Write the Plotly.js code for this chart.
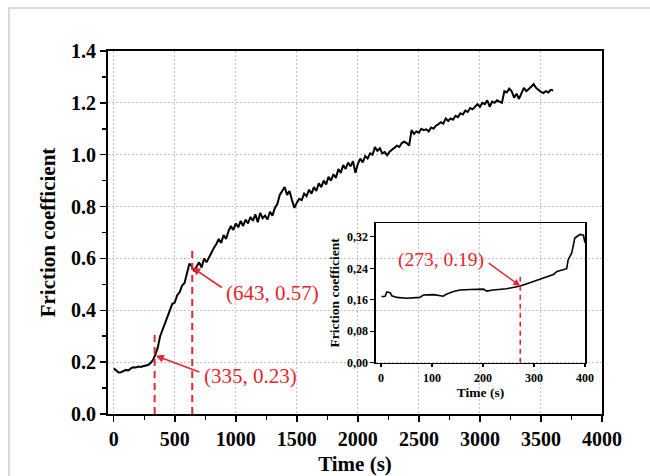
<!DOCTYPE html>
<html>
<head>
<meta charset="utf-8">
<script src="https://cdn.plot.ly/plotly-3.0.1.min.js"></script>
<style>
  html, body { margin: 0; padding: 0; background: #fff; }
  #wrap { position: relative; width: 650px; height: 476px; overflow: hidden; }
  #chart { position: absolute; left: 0; top: 0; width: 650px; height: 476px; }
  #frame { position: absolute; left: 8px; top: 7px; width: 700px; height: 500px;
           border-top: 2px solid #dadada; border-left: 2px solid #dadada; pointer-events: none; }
</style>
</head>
<body>
<div id="wrap"><div id="chart"></div><div id="frame"></div></div>
<script>
// ---- Main curve: time (s) and friction coefficient ----
const mainTime = [
  0,20,40,60,80,100,120,140,160,180,200,220,240,260,280,300,320,340,360,380,
  400,420,440,460,480,500,520,540,560,580,600,620,640,660,680,700,720,740,760,780,
  800,820,840,860,880,900,920,940,960,980,1000,1020,1040,1060,1080,1100,1120,1140,1160,1180,
  1200,1220,1240,1260,1280,1300,1320,1340,1360,1380,1400,1420,1440,1460,1480,1500,1520,1540,1560,1580,
  1600,1620,1640,1660,1680,1700,1720,1740,1760,1780,1800,1820,1840,1860,1880,1900,1920,1940,1960,1980,
  2000,2020,2040,2060,2080,2100,2120,2140,2160,2180,2200,2220,2240,2260,2280,2300,2320,2340,2360,2380,
  2400,2420,2440,2460,2480,2500,2520,2540,2560,2580,2600,2620,2640,2660,2680,2700,2720,2740,2760,2780,
  2800,2820,2840,2860,2880,2900,2920,2940,2960,2980,3000,3020,3040,3060,3080,3100,3120,3140,3160,3180,
  3200,3220,3240,3260,3280,3300,3320,3340,3360,3380,3400,3420,3440,3460,3480,3500,3520,3540,3560,3580,
  3600
];
const mainFriction = [
  0.176,0.168,0.160,0.161,0.166,0.170,0.168,0.176,0.180,0.179,0.183,0.181,0.184,0.186,0.189,0.196,0.207,0.228,0.255,0.300,
  0.325,0.345,0.375,0.395,0.425,0.430,0.458,0.470,0.495,0.505,0.540,0.580,0.570,0.550,0.570,0.585,0.565,0.600,0.585,0.605,
  0.620,0.640,0.655,0.675,0.660,0.690,0.675,0.705,0.725,0.710,0.735,0.720,0.745,0.725,0.750,0.735,0.760,0.745,0.770,0.740,
  0.775,0.755,0.765,0.750,0.780,0.765,0.795,0.810,0.845,0.860,0.875,0.845,0.860,0.825,0.795,0.815,0.830,0.825,0.850,0.840,
  0.865,0.850,0.875,0.860,0.890,0.875,0.900,0.885,0.915,0.900,0.925,0.910,0.945,0.930,0.960,0.945,0.970,0.955,0.975,0.930,
  0.965,0.985,0.970,0.995,0.985,1.005,1.000,1.030,1.015,1.025,1.005,1.010,0.998,1.012,1.020,1.028,1.035,1.030,1.045,1.050,
  1.045,1.035,1.095,1.080,1.090,1.085,1.100,1.095,1.098,1.090,1.105,1.100,1.112,1.118,1.125,1.120,1.140,1.130,1.140,1.135,
  1.150,1.145,1.160,1.155,1.170,1.165,1.180,1.175,1.185,1.195,1.185,1.200,1.195,1.210,1.185,1.205,1.200,1.210,1.205,1.200,
  1.245,1.240,1.255,1.245,1.220,1.235,1.215,1.240,1.258,1.245,1.252,1.262,1.272,1.258,1.250,1.242,1.238,1.245,1.240,1.250,
  1.248
];

// ---- Inset curve: first 400 s ----
const insetTime = [1,8,11,18,21,31,50,63,76,83,103,122,129,142,155,175,201,207,220,246,266,273,286,299,312,325,338,345,364,367,374,380,390,397,400];
const insetFriction = [0.168,0.169,0.180,0.178,0.170,0.166,0.164,0.165,0.166,0.172,0.173,0.169,0.175,0.181,0.185,0.186,0.187,0.182,0.185,0.188,0.192,0.195,0.201,0.207,0.214,0.218,0.224,0.232,0.239,0.262,0.279,0.317,0.326,0.324,0.305];

// ---- Marked points ----
const mainMarkTime = [335, 643];
const mainMarkFriction = [0.23, 0.57];
const mainMarkLabels = ['(335, 0.23)', '(643, 0.57)'];
const insetMarkTime = [273];
const insetMarkFriction = [0.19];
const insetMarkLabels = ['(273, 0.19)'];

// ---- Ticks ----
const insetYTickVals = [0, 0.08, 0.16, 0.24, 0.32];
const insetYTickText = ['0,00', '0,08', '0,16', '0,24', '0,32'];
const insetXTickVals = [0, 100, 200, 300, 400];

const SERIF = '"Liberation Serif", "Times New Roman", serif';
const RED = '#e3262b';

const traces = [
  { x: mainTime, y: mainFriction, type: 'scatter', mode: 'lines',
    line: { color: 'black', width: 2 }, xaxis: 'x', yaxis: 'y', hoverinfo: 'skip' },
  { x: [mainMarkTime[0], mainMarkTime[0]], y: [0, 0.31], type: 'scatter', mode: 'lines',
    line: { color: RED, width: 2, dash: '7px,5px' }, xaxis: 'x', yaxis: 'y' },
  { x: [mainMarkTime[1], mainMarkTime[1]], y: [0, 0.64], type: 'scatter', mode: 'lines',
    line: { color: RED, width: 2, dash: '7px,5px' }, xaxis: 'x', yaxis: 'y' },
  { x: insetTime, y: insetFriction, type: 'scatter', mode: 'lines',
    line: { color: 'black', width: 1.6 }, xaxis: 'x2', yaxis: 'y2' },
  { x: [insetMarkTime[0], insetMarkTime[0]], y: [0, 0.227], type: 'scatter', mode: 'lines',
    line: { color: RED, width: 1.6, dash: '5px,4px' }, xaxis: 'x2', yaxis: 'y2' }
];

const annotations = [
  // arrows
  { x: mainMarkTime[1], y: mainMarkFriction[1] - 0.005, xref: 'x', yref: 'y', text: '',
    showarrow: true, arrowhead: 2, arrowsize: 1, arrowwidth: 1.6, arrowcolor: RED, ax: 31, ay: 21 },
  { x: mainMarkTime[0] + 10, y: mainMarkFriction[0] - 0.005, xref: 'x', yref: 'y', text: '',
    showarrow: true, arrowhead: 2, arrowsize: 1, arrowwidth: 1.6, arrowcolor: RED, ax: 45, ay: 17 },
  { x: insetMarkTime[0], y: insetMarkFriction[0] + 0.005, xref: 'x2', yref: 'y2', text: '',
    showarrow: true, arrowhead: 2, arrowsize: 1, arrowwidth: 1.4, arrowcolor: RED, ax: -33, ay: -24 },
  // labels
  { x: 1300, y: 0.468, xref: 'x', yref: 'y', text: mainMarkLabels[1], showarrow: false,
    xanchor: 'center', yanchor: 'middle', font: { family: SERIF, size: 21, color: RED } },
  { x: 1117, y: 0.1465, xref: 'x', yref: 'y', text: mainMarkLabels[0], showarrow: false,
    xanchor: 'center', yanchor: 'middle', font: { family: SERIF, size: 21, color: RED } },
  { x: 117.6, y: 0.261, xref: 'x2', yref: 'y2', text: insetMarkLabels[0], showarrow: false,
    xanchor: 'center', yanchor: 'middle', font: { family: SERIF, size: 19.5, color: RED } }
];

const layout = {
  width: 650, height: 476,
  margin: { l: 108, r: 48, t: 51, b: 62 },
  paper_bgcolor: 'white', plot_bgcolor: 'rgba(0,0,0,0)',
  showlegend: false,
  font: { family: SERIF, color: 'black' },
  xaxis: {
    domain: [0, 1], range: [-47, 4000], tick0: 0, dtick: 500,
    ticks: 'outside', ticklen: 6, tickwidth: 1.5, tickcolor: 'black',
    minor: { tick0: 0, dtick: 250, ticks: 'outside', ticklen: 4, tickwidth: 1.5, tickcolor: 'black', showgrid: false },
    showline: true, linewidth: 2, linecolor: 'black', mirror: true,
    showgrid: true, gridcolor: '#c2c2c2', gridwidth: 1, griddash: '2px,2px',
    zeroline: false, automargin: false,
    tickfont: { family: SERIF, size: 20, weight: 'bold' },
    title: { text: 'Time (s)', font: { family: SERIF, size: 21, weight: 'bold' } }
  },
  yaxis: {
    domain: [0, 1], range: [0, 1.4], tick0: 0, dtick: 0.2, tickformat: '.1f',
    ticks: 'outside', ticklen: 6, tickwidth: 1.5, tickcolor: 'black',
    minor: { tick0: 0, dtick: 0.1, ticks: 'outside', ticklen: 4, tickwidth: 1.5, tickcolor: 'black', showgrid: false },
    showline: true, linewidth: 2, linecolor: 'black', mirror: true,
    showgrid: true, gridcolor: '#c2c2c2', gridwidth: 1, griddash: '2px,2px',
    zeroline: false, automargin: false,
    tickfont: { family: SERIF, size: 20, weight: 'bold' },
    title: { text: 'Friction coefficient', font: { family: SERIF, size: 21, weight: 'bold' } }
  },
  xaxis2: {
    domain: [0.5425, 0.9656], range: [-10, 400], anchor: 'y2',
    tickmode: 'array', tickvals: insetXTickVals,
    ticks: 'outside', ticklen: 3, tickwidth: 1.2, tickcolor: 'black',
    showline: true, linewidth: 1.5, linecolor: 'black', mirror: true,
    showgrid: false, zeroline: false, automargin: false,
    tickfont: { family: SERIF, size: 12, weight: 'bold' },
    title: { text: 'Time (s)', standoff: 4, font: { family: SERIF, size: 13.5, weight: 'bold' } }
  },
  yaxis2: {
    domain: [0.1413, 0.526], range: [0, 0.355], anchor: 'x2',
    tickmode: 'array', tickvals: insetYTickVals, ticktext: insetYTickText,
    ticks: 'outside', ticklen: 4, tickwidth: 1.2, tickcolor: 'black',
    showline: true, linewidth: 1.5, linecolor: 'black', mirror: true,
    showgrid: false, zeroline: false, automargin: false,
    tickfont: { family: SERIF, size: 12, weight: 'bold' },
    title: { text: 'Friction coefficient', standoff: 4, font: { family: SERIF, size: 13.5, weight: 'bold' } }
  },
  annotations: annotations
};

Plotly.newPlot('chart', traces, layout, { staticPlot: true, displayModeBar: false });
</script>
</body>
</html>
